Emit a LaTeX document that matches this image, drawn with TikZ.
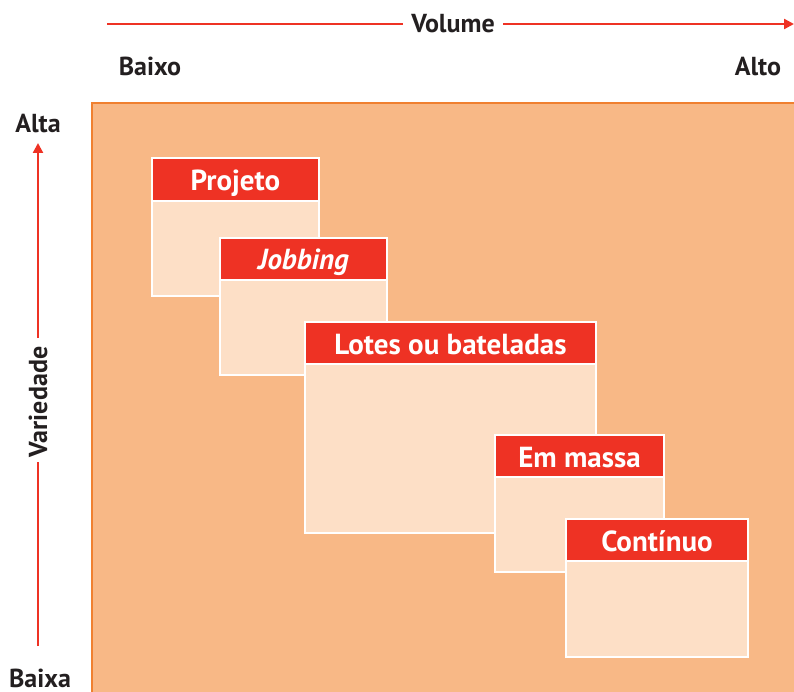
\documentclass[tikz,border=0pt]{standalone}
\usepackage{fontspec}
\setmainfont{PT Sans}
\usetikzlibrary{arrows.meta}
\definecolor{axred}{HTML}{EE3224}
\definecolor{bgor}{HTML}{F8B886}
\definecolor{bgline}{HTML}{F08030}
\definecolor{bodyc}{HTML}{FDDFC6}
\definecolor{txt}{HTML}{231F20}
\tikzset{
  axis/.style={draw=axred, line width=2.2pt},
  tip/.style={-{Triangle[length=10pt,width=10pt]}},
  axlab/.style={font=\fontsize{26}{30}\selectfont\bfseries, text=txt, inner sep=0pt},
  hdr/.style={fill=axred, draw=white, line width=2.5pt},
  bdy/.style={fill=bodyc, draw=white, line width=2.5pt},
  hdrtext/.style={font=\fontsize{29}{33}\selectfont\bfseries, text=white, inner sep=0pt, anchor=base}
}
\begin{document}
\begin{tikzpicture}[x=1pt,y=-1pt]
\useasboundingbox (0,0) rectangle (794,692);
% background panel
\fill[bgor] (92,103) rectangle (800,700);
\draw[bgline, line width=2.2pt] (92,700) -- (92,103) -- (800,103);
% top axis
\node[axlab, anchor=base] (vol) at (453,33) {Volume};
\coordinate (tl) at (107,24);
\coordinate (tr) at (794,24);
\coordinate (tm1) at (403,24);
\coordinate (tm2) at (503,24);
\draw[axis] (tl) -- (tm1);
\draw[axis, tip] (tm2) -- (tr);
\node[axlab, anchor=base] (baixo) at (150,76) {Baixo};
\node[axlab, anchor=base] (alto) at (758,76) {Alto};
% left axis
\node[axlab, rotate=90, anchor=base] (var) at (47,402) {Variedade};
\coordinate (vb) at (38,646);
\coordinate (vm1) at (38,462);
\coordinate (vm2) at (38,338);
\coordinate (vt) at (38,143);
\draw[axis] (vb) -- (vm1);
\draw[axis, tip] (vm2) -- (vt);
\node[axlab, anchor=base] (alta) at (38,133) {Alta};
\node[axlab, anchor=base] (baixa) at (40,687) {Baixa};
% boxes
\newcommand{\pbox}[7]{%
  \draw[bdy] (#2,#5) rectangle (#3,#6);
  \draw[hdr] (#2,#4) rectangle (#3,#5);
  \node[hdrtext] (#1) at ({(#2+#3)/2},{#5-10}) {#7};
}
\pbox{projeto}{152}{319}{158}{201}{296}{Projeto}
\pbox{jobbing}{220}{387}{238}{280}{375}{\itshape Jobbing}
\pbox{lotes}{305}{596}{322}{364}{533}{Lotes ou bateladas}
\pbox{massa}{495}{664}{435}{477}{572}{Em massa}
\pbox{continuo}{566}{748}{519}{561}{657}{Contínuo}
\end{tikzpicture}
\end{document}
